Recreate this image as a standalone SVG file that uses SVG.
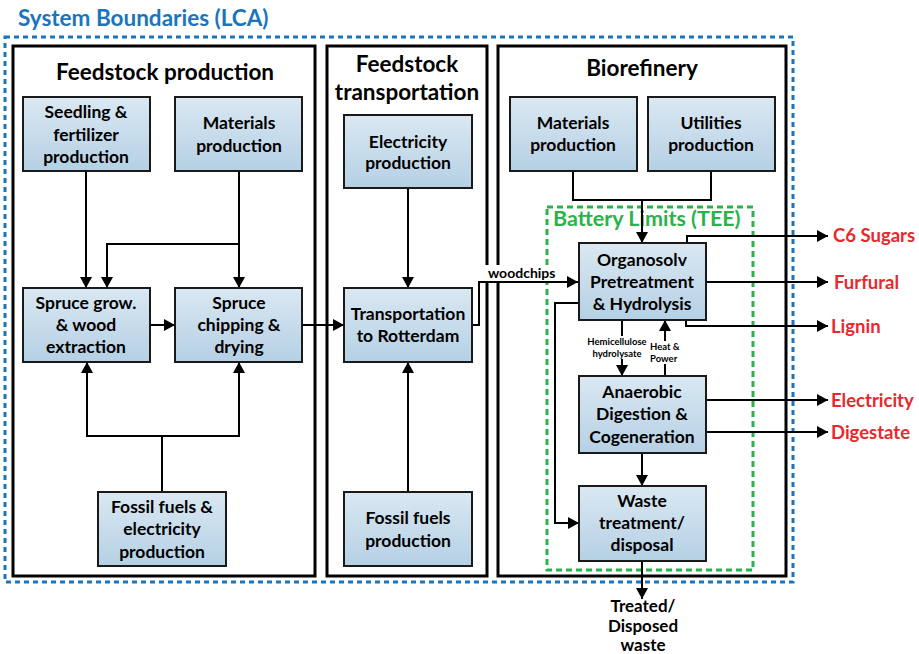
<svg xmlns="http://www.w3.org/2000/svg" width="919" height="654" viewBox="0 0 919 654">
<defs>
<linearGradient id="g" x1="0" y1="0" x2="0" y2="1">
<stop offset="0" stop-color="#dae8f2"/>
<stop offset="1" stop-color="#b5d0e4"/>
</linearGradient>
<marker id="a" markerUnits="userSpaceOnUse" markerWidth="12" markerHeight="12" refX="11" refY="6" orient="auto">
<path d="M0,0 L11,6 L0,12 z" fill="#000"/>
</marker>
</defs>
<style>
text{font-family:Lato,"Liberation Sans",sans-serif;font-weight:bold}
.n rect{fill:url(#g);stroke:#1a1a1a;stroke-width:2}
.n text{font-size:17.5px;text-anchor:middle;fill:#000}
.sec{fill:none;stroke:#000;stroke-width:3}
.h{font-size:22.5px;text-anchor:middle;fill:#000}
.c path{fill:none;stroke:#000;stroke-width:2}
.out{font-size:18.5px;fill:#e8282d}
.sm{font-size:9.5px;fill:#000}
</style>
<rect width="919" height="654" fill="#fff"/>
<text x="18" y="26" font-size="22.5" fill="#1b75bc">System Boundaries (LCA)</text>
<rect x="5" y="37" width="788" height="545" fill="none" stroke="#1b75bc" stroke-width="3" stroke-dasharray="5,4"/>
<g id="sections">
<rect class="sec" x="13" y="46" width="302" height="530"/>
<rect class="sec" x="327" y="46" width="160" height="530"/>
<rect class="sec" x="498" y="46" width="288" height="530"/>
<text class="h" x="165" y="80">Feedstock production</text>
<text class="h" x="407" y="72">Feedstock</text>
<text class="h" x="407" y="100">transportation</text>
<text class="h" x="642" y="76">Biorefinery</text>
</g>
<g id="battery">
<rect x="547" y="207" width="206" height="363" fill="none" stroke="#2bb34b" stroke-width="3" stroke-dasharray="6,4"/>
<text x="553" y="226" font-size="21.5" fill="#2bb34b">Battery Limits (TEE)</text>
</g>
<g class="c" id="connectors">
<path d="M86,171 V288" marker-end="url(#a)"/>
<path d="M239,171 V288" marker-end="url(#a)"/>
<path d="M239,244 H107 V288" marker-end="url(#a)"/>
<path d="M150,325 H175" marker-end="url(#a)"/>
<path d="M162,492 V436 H87 V362" marker-end="url(#a)"/>
<path d="M162,436 H239 V362" marker-end="url(#a)"/>
<path d="M302,325 H344" marker-end="url(#a)"/>
<path d="M408,188 V288" marker-end="url(#a)"/>
<path d="M408,492 V362" marker-end="url(#a)"/>
<path d="M472,325 H479 V282 H578" marker-end="url(#a)"/>
<path d="M573,171 V200 H711 V171"/>
<path d="M642,200 V243" marker-end="url(#a)"/>
<path d="M687,243 V236 H828" marker-end="url(#a)"/>
<path d="M706,282 H828" marker-end="url(#a)"/>
<path d="M686,320 V326 H828" marker-end="url(#a)"/>
<path d="M706,400 H828" marker-end="url(#a)"/>
<path d="M706,432 H828" marker-end="url(#a)"/>
<path d="M622,320 V376" marker-end="url(#a)"/>
<path d="M665,376 V320" marker-end="url(#a)"/>
<path d="M642,453 V486" marker-end="url(#a)"/>
<path d="M578,303 H555 V523 H579" marker-end="url(#a)"/>
<path d="M642,561 V599" marker-end="url(#a)"/>
</g>
<g id="labels">
<rect x="485" y="265" width="75" height="16" fill="#fff"/>
<text x="488" y="278" font-size="14" fill="#000">woodchips</text>
<rect x="586" y="336" width="62" height="23" fill="#fff"/>
<text class="sm" x="617" y="345" text-anchor="middle">Hemicellulose</text>
<text class="sm" x="617" y="357" text-anchor="middle">hydrolysate</text>
<rect x="650" y="341" width="32" height="23" fill="#fff"/>
<text class="sm" x="650" y="350">Heat &amp;</text>
<text class="sm" x="650" y="362">Power</text>
<text class="out" x="833" y="242">C6 Sugars</text>
<text class="out" x="834" y="289">Furfural</text>
<text class="out" x="831" y="333">Lignin</text>
<text class="out" x="831" y="407">Electricity</text>
<text class="out" x="831" y="439">Digestate</text>
<text x="643" y="612" font-size="17" text-anchor="middle">Treated/</text>
<text x="643" y="632" font-size="17" text-anchor="middle">Disposed</text>
<text x="643" y="651" font-size="17" text-anchor="middle">waste</text>
</g>
<g class="n" id="seedling"><rect x="23" y="97" width="127" height="74"/><text x="86" y="118">Seedling &amp;</text><text x="86" y="141">fertilizer</text><text x="86" y="163">production</text></g>
<g class="n" id="materials-fp"><rect x="175" y="97" width="127" height="74"/><text x="239" y="129">Materials</text><text x="239" y="152">production</text></g>
<g class="n" id="spruce-grow"><rect x="23" y="288" width="127" height="74"/><text x="86" y="309">Spruce grow.</text><text x="86" y="331">&amp; wood</text><text x="86" y="353">extraction</text></g>
<g class="n" id="spruce-chip"><rect x="175" y="288" width="127" height="74"/><text x="239" y="309">Spruce</text><text x="239" y="331">chipping &amp;</text><text x="239" y="353">drying</text></g>
<g class="n" id="fossil-elec"><rect x="98" y="492" width="128" height="74"/><text x="162" y="513">Fossil fuels &amp;</text><text x="162" y="535">electricity</text><text x="162" y="558">production</text></g>
<g class="n" id="elec-prod"><rect x="344" y="115" width="128" height="73"/><text x="408" y="148">Electricity</text><text x="408" y="169">production</text></g>
<g class="n" id="transport"><rect x="344" y="288" width="128" height="74"/><text x="408" y="320">Transportation</text><text x="408" y="342">to Rotterdam</text></g>
<g class="n" id="fossil-prod"><rect x="344" y="492" width="128" height="74"/><text x="408" y="524">Fossil fuels</text><text x="408" y="547">production</text></g>
<g class="n" id="materials-br"><rect x="510" y="97" width="127" height="74"/><text x="573" y="129">Materials</text><text x="573" y="151">production</text></g>
<g class="n" id="utilities"><rect x="648" y="97" width="127" height="74"/><text x="711" y="129">Utilities</text><text x="711" y="151">production</text></g>
<g class="n" id="organosolv"><rect x="579" y="243" width="127" height="77"/><text x="642" y="266">Organosolv</text><text x="642" y="288">Pretreatment</text><text x="642" y="310">&amp; Hydrolysis</text></g>
<g class="n" id="anaerobic"><rect x="579" y="376" width="127" height="77"/><text x="642" y="398">Anaerobic</text><text x="642" y="420">Digestion &amp;</text><text x="642" y="443">Cogeneration</text></g>
<g class="n" id="waste"><rect x="579" y="486" width="127" height="75"/><text x="642" y="507">Waste</text><text x="642" y="529">treatment/</text><text x="642" y="551">disposal</text></g>
</svg>
